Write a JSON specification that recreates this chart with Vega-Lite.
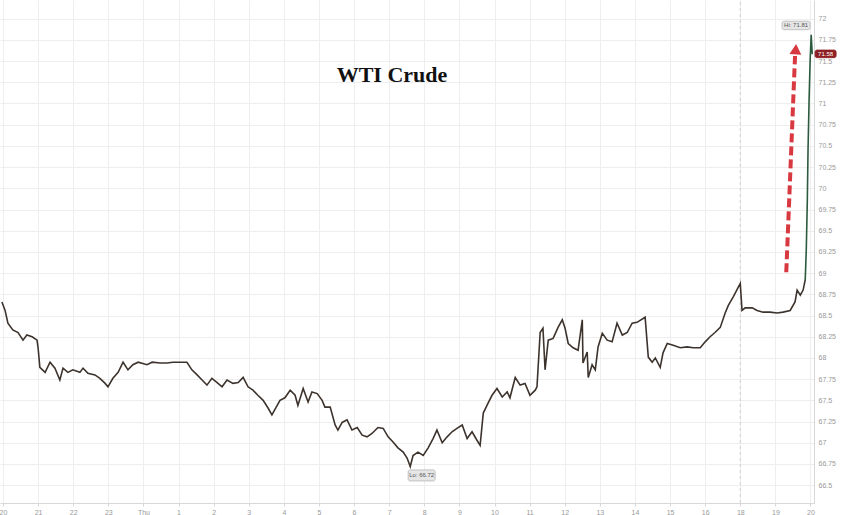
{
  "$schema": "https://vega.github.io/schema/vega-lite/v6.json",
  "width": 814,
  "height": 503,
  "autosize": {"type": "none"},
  "padding": {"left": 0, "top": 0, "right": 34, "bottom": 12},
  "background": "white",
  "config": {
    "view": {"stroke": null},
    "axis": {"labelFont": "Liberation Sans", "labelFontSize": 7, "labelColor": "#999", "gridColor": "#eeeeee", "domainColor": "#d8d8d8", "tickColor": "#d8d8d8", "tickSize": 3, "title": null, "labelOverlap": false}
  },
  "datasets": {
    "px": [
      {"t": -0.03, "v": 68.66, "seg": "a"}, {"t": 0.06, "v": 68.56, "seg": "a"}, {"t": 0.14, "v": 68.41, "seg": "a"},
      {"t": 0.28, "v": 68.33, "seg": "a"}, {"t": 0.43, "v": 68.30, "seg": "a"}, {"t": 0.57, "v": 68.21, "seg": "a"},
      {"t": 0.68, "v": 68.27, "seg": "a"}, {"t": 0.83, "v": 68.25, "seg": "a"}, {"t": 0.97, "v": 68.21, "seg": "a"},
      {"t": 1.00, "v": 68.12, "seg": "a"}, {"t": 1.05, "v": 67.89, "seg": "a"}, {"t": 1.20, "v": 67.83, "seg": "a"},
      {"t": 1.34, "v": 67.95, "seg": "a"}, {"t": 1.48, "v": 67.88, "seg": "a"}, {"t": 1.62, "v": 67.74, "seg": "a"},
      {"t": 1.71, "v": 67.88, "seg": "a"}, {"t": 1.85, "v": 67.83, "seg": "a"}, {"t": 1.99, "v": 67.86, "seg": "a"},
      {"t": 2.19, "v": 67.83, "seg": "a"}, {"t": 2.28, "v": 67.88, "seg": "a"}, {"t": 2.42, "v": 67.82, "seg": "a"},
      {"t": 2.62, "v": 67.80, "seg": "a"}, {"t": 2.76, "v": 67.76, "seg": "a"}, {"t": 2.91, "v": 67.70, "seg": "a"},
      {"t": 2.99, "v": 67.66, "seg": "a"}, {"t": 3.13, "v": 67.76, "seg": "a"}, {"t": 3.28, "v": 67.83, "seg": "a"},
      {"t": 3.42, "v": 67.95, "seg": "a"}, {"t": 3.56, "v": 67.86, "seg": "a"}, {"t": 3.70, "v": 67.92, "seg": "a"},
      {"t": 3.85, "v": 67.95, "seg": "a"}, {"t": 4.10, "v": 67.92, "seg": "a"}, {"t": 4.25, "v": 67.95, "seg": "a"},
      {"t": 4.47, "v": 67.94, "seg": "a"}, {"t": 4.67, "v": 67.94, "seg": "a"}, {"t": 4.84, "v": 67.95, "seg": "a"},
      {"t": 5.10, "v": 67.95, "seg": "a"}, {"t": 5.24, "v": 67.95, "seg": "a"}, {"t": 5.38, "v": 67.86, "seg": "a"},
      {"t": 5.53, "v": 67.80, "seg": "a"}, {"t": 5.67, "v": 67.74, "seg": "a"}, {"t": 5.81, "v": 67.68, "seg": "a"},
      {"t": 5.95, "v": 67.76, "seg": "a"}, {"t": 6.10, "v": 67.71, "seg": "a"}, {"t": 6.24, "v": 67.66, "seg": "a"},
      {"t": 6.38, "v": 67.74, "seg": "a"}, {"t": 6.55, "v": 67.70, "seg": "a"}, {"t": 6.70, "v": 67.71, "seg": "a"},
      {"t": 6.84, "v": 67.77, "seg": "a"}, {"t": 6.98, "v": 67.66, "seg": "a"}, {"t": 7.12, "v": 67.62, "seg": "a"},
      {"t": 7.26, "v": 67.56, "seg": "a"}, {"t": 7.41, "v": 67.50, "seg": "a"}, {"t": 7.55, "v": 67.41, "seg": "a"},
      {"t": 7.66, "v": 67.33, "seg": "a"}, {"t": 7.81, "v": 67.44, "seg": "a"}, {"t": 7.89, "v": 67.50, "seg": "a"},
      {"t": 8.03, "v": 67.53, "seg": "a"}, {"t": 8.18, "v": 67.62, "seg": "a"}, {"t": 8.32, "v": 67.56, "seg": "a"},
      {"t": 8.40, "v": 67.44, "seg": "a"}, {"t": 8.55, "v": 67.64, "seg": "a"}, {"t": 8.69, "v": 67.48, "seg": "a"},
      {"t": 8.80, "v": 67.60, "seg": "a"}, {"t": 8.95, "v": 67.58, "seg": "a"}, {"t": 9.09, "v": 67.50, "seg": "a"},
      {"t": 9.17, "v": 67.42, "seg": "a"}, {"t": 9.32, "v": 67.42, "seg": "a"}, {"t": 9.46, "v": 67.21, "seg": "a"},
      {"t": 9.54, "v": 67.15, "seg": "a"}, {"t": 9.66, "v": 67.24, "seg": "a"}, {"t": 9.80, "v": 67.27, "seg": "a"},
      {"t": 9.94, "v": 67.15, "seg": "a"}, {"t": 10.09, "v": 67.18, "seg": "a"}, {"t": 10.23, "v": 67.09, "seg": "a"},
      {"t": 10.37, "v": 67.07, "seg": "a"}, {"t": 10.51, "v": 67.11, "seg": "a"}, {"t": 10.68, "v": 67.18, "seg": "a"},
      {"t": 10.83, "v": 67.17, "seg": "a"}, {"t": 10.97, "v": 67.07, "seg": "a"}, {"t": 11.11, "v": 67.01, "seg": "a"},
      {"t": 11.25, "v": 66.94, "seg": "a"}, {"t": 11.40, "v": 66.89, "seg": "a"}, {"t": 11.51, "v": 66.82, "seg": "a"},
      {"t": 11.60, "v": 66.72, "seg": "a"}, {"t": 11.68, "v": 66.85, "seg": "a"}, {"t": 11.82, "v": 66.89, "seg": "a"},
      {"t": 11.97, "v": 66.85, "seg": "a"}, {"t": 12.11, "v": 66.94, "seg": "a"}, {"t": 12.25, "v": 67.05, "seg": "a"},
      {"t": 12.36, "v": 67.15, "seg": "a"}, {"t": 12.51, "v": 67.00, "seg": "a"}, {"t": 12.65, "v": 67.07, "seg": "a"},
      {"t": 12.79, "v": 67.13, "seg": "a"}, {"t": 12.93, "v": 67.17, "seg": "a"}, {"t": 13.08, "v": 67.21, "seg": "a"},
      {"t": 13.22, "v": 67.05, "seg": "a"}, {"t": 13.36, "v": 67.13, "seg": "a"}, {"t": 13.50, "v": 67.03, "seg": "a"},
      {"t": 13.59, "v": 66.97, "seg": "a"}, {"t": 13.68, "v": 67.35, "seg": "a"}, {"t": 13.82, "v": 67.47, "seg": "a"},
      {"t": 13.93, "v": 67.56, "seg": "a"}, {"t": 14.07, "v": 67.64, "seg": "a"}, {"t": 14.22, "v": 67.54, "seg": "a"},
      {"t": 14.36, "v": 67.60, "seg": "a"}, {"t": 14.44, "v": 67.53, "seg": "a"}, {"t": 14.59, "v": 67.77, "seg": "a"},
      {"t": 14.73, "v": 67.68, "seg": "a"}, {"t": 14.87, "v": 67.70, "seg": "a"}, {"t": 15.01, "v": 67.56, "seg": "a"},
      {"t": 15.16, "v": 67.62, "seg": "a"}, {"t": 15.21, "v": 67.66, "seg": "a"}, {"t": 15.30, "v": 68.30, "seg": "a"},
      {"t": 15.38, "v": 68.35, "seg": "a"}, {"t": 15.44, "v": 67.86, "seg": "a"}, {"t": 15.53, "v": 68.21, "seg": "a"},
      {"t": 15.67, "v": 68.23, "seg": "a"}, {"t": 15.81, "v": 68.36, "seg": "a"}, {"t": 15.93, "v": 68.45, "seg": "a"},
      {"t": 16.01, "v": 68.35, "seg": "a"}, {"t": 16.10, "v": 68.17, "seg": "a"}, {"t": 16.24, "v": 68.12, "seg": "a"},
      {"t": 16.38, "v": 68.09, "seg": "a"}, {"t": 16.50, "v": 68.45, "seg": "a"}, {"t": 16.52, "v": 67.94, "seg": "a"},
      {"t": 16.64, "v": 68.07, "seg": "a"}, {"t": 16.67, "v": 67.77, "seg": "a"}, {"t": 16.78, "v": 67.92, "seg": "a"},
      {"t": 16.87, "v": 67.86, "seg": "a"}, {"t": 16.95, "v": 68.13, "seg": "a"}, {"t": 17.07, "v": 68.29, "seg": "a"},
      {"t": 17.21, "v": 68.21, "seg": "a"}, {"t": 17.35, "v": 68.19, "seg": "a"}, {"t": 17.49, "v": 68.41, "seg": "a"},
      {"t": 17.64, "v": 68.27, "seg": "a"}, {"t": 17.78, "v": 68.30, "seg": "a"}, {"t": 17.92, "v": 68.41, "seg": "a"},
      {"t": 18.06, "v": 68.42, "seg": "a"}, {"t": 18.29, "v": 68.48, "seg": "a"}, {"t": 18.38, "v": 68.01, "seg": "a"},
      {"t": 18.49, "v": 67.95, "seg": "a"}, {"t": 18.58, "v": 68.00, "seg": "a"}, {"t": 18.72, "v": 67.89, "seg": "a"},
      {"t": 18.80, "v": 68.06, "seg": "a"}, {"t": 18.92, "v": 68.17, "seg": "a"}, {"t": 19.09, "v": 68.15, "seg": "a"},
      {"t": 19.29, "v": 68.12, "seg": "a"}, {"t": 19.49, "v": 68.13, "seg": "a"}, {"t": 19.66, "v": 68.12, "seg": "a"},
      {"t": 19.86, "v": 68.12, "seg": "a"}, {"t": 20.00, "v": 68.19, "seg": "a"}, {"t": 20.14, "v": 68.25, "seg": "a"},
      {"t": 20.28, "v": 68.30, "seg": "a"}, {"t": 20.43, "v": 68.36, "seg": "a"}, {"t": 20.57, "v": 68.53, "seg": "a"},
      {"t": 20.66, "v": 68.62, "seg": "a"}, {"t": 20.80, "v": 68.72, "seg": "a"}, {"t": 21.00, "v": 68.88, "seg": "a"},
      {"t": 21.05, "v": 68.56, "seg": "a"}, {"t": 21.14, "v": 68.59, "seg": "a"}, {"t": 21.34, "v": 68.59, "seg": "a"},
      {"t": 21.48, "v": 68.56, "seg": "a"}, {"t": 21.65, "v": 68.54, "seg": "a"}, {"t": 21.85, "v": 68.54, "seg": "a"},
      {"t": 22.05, "v": 68.53, "seg": "a"}, {"t": 22.22, "v": 68.54, "seg": "a"}, {"t": 22.42, "v": 68.56, "seg": "a"},
      {"t": 22.56, "v": 68.66, "seg": "a"}, {"t": 22.62, "v": 68.80, "seg": "a"}, {"t": 22.71, "v": 68.74, "seg": "a"},
      {"t": 22.79, "v": 68.80, "seg": "a"}, {"t": 22.85, "v": 68.92, "seg": "a"},
      {"t": 22.85, "v": 68.92, "seg": "b"}, {"t": 22.88, "v": 69.27, "seg": "b"}, {"t": 22.91, "v": 69.86, "seg": "b"},
      {"t": 22.93, "v": 70.45, "seg": "b"}, {"t": 22.96, "v": 71.04, "seg": "b"}, {"t": 22.99, "v": 71.51, "seg": "b"},
      {"t": 23.02, "v": 71.81, "seg": "b"}, {"t": 23.05, "v": 71.58, "seg": "b"}
    ],
    "boxes": [
      {"t": 22.19, "t2": 22.99, "v": 71.87, "v2": 71.97, "kind": "hl"},
      {"t": 11.54, "t2": 12.31, "v": 66.55, "v2": 66.68, "kind": "hl"},
      {"t": 23.13, "t2": 23.73, "v": 71.54, "v2": 71.63, "kind": "last"}
    ],
    "boxlabels": [
      {"t": 22.59, "v": 71.92, "label": "Hi: 71.81", "kind": "hl"},
      {"t": 11.925, "v": 66.615, "label": "Lo: 66.72", "kind": "hl"},
      {"t": 23.43, "v": 71.585, "label": "71.58", "kind": "last"}
    ]
  },
  "encoding": {
    "x": {
      "field": "t", "type": "quantitative", "title": null,
      "scale": {"domain": [-0.085, 23.1], "nice": false, "zero": false},
      "axis": {
        "values": [0, 1, 2, 3, 4, 5, 6, 7, 8, 9, 10, 11, 12, 13, 14, 15, 16, 17, 18, 19, 20, 21, 22, 23],
        "tickCount": 24,
        "labelExpr": "['20','21','22','23','Thu','1','2','3','4','5','6','7','8','9','10','11','12','13','14','15','16','18','19','20'][datum.value]",
        "grid": true, "labelPadding": 2, "labelOverlap": false, "labelBound": false
      }
    },
    "y": {
      "field": "v", "type": "quantitative", "title": null,
      "scale": {"domain": [66.29, 72.22], "nice": false, "zero": false},
      "axis": {
        "orient": "right",
        "values": [66.5, 66.75, 67, 67.25, 67.5, 67.75, 68, 68.25, 68.5, 68.75, 69, 69.25, 69.5, 69.75, 70, 70.25, 70.5, 70.75, 71, 71.25, 71.5, 71.75, 72],
        "tickCount": 24,
        "format": ".4~g", "grid": true, "ticks": false, "labelPadding": 4, "labelOverlap": false
      }
    }
  },
  "layer": [
    {
      "data": {"values": [{"t": 21.0, "v": 66.29, "v2": 72.22}]},
      "mark": {"type": "rule", "color": "#cfcfcf", "strokeDash": [3, 3], "strokeWidth": 1},
      "encoding": {"y2": {"field": "v2"}}
    },
    {
      "data": {"name": "px"},
      "mark": {"type": "line", "strokeWidth": 1.6, "interpolate": "linear"},
      "encoding": {
        "color": {"field": "seg", "type": "nominal", "legend": null, "scale": {"domain": ["a", "b"], "range": ["#3d332d", "#2c5a3f"]}},
        "detail": {"field": "seg"}
      }
    },
    {
      "data": {"values": [{"t": 22.31, "v": 69.01, "t2": 22.56, "v2": 71.56}]},
      "mark": {"type": "rule", "color": "#d8383f", "strokeWidth": 4, "strokeDash": [9, 4]},
      "encoding": {"x2": {"field": "t2"}, "y2": {"field": "v2"}}
    },
    {
      "data": {"values": [{"t": 22.58, "v": 71.64}]},
      "mark": {"type": "point", "shape": "triangle-up", "filled": true, "color": "#d8383f", "size": 140, "opacity": 1, "angle": 4}
    },
    {
      "data": {"name": "boxes"},
      "mark": {"type": "rect", "cornerRadius": 2, "strokeWidth": 0.8},
      "encoding": {
        "x2": {"field": "t2"},
        "y2": {"field": "v2"},
        "fill": {"field": "kind", "type": "nominal", "legend": null, "scale": {"domain": ["hl", "last"], "range": ["#e6e6e6", "#8e1f24"]}},
        "stroke": {"field": "kind", "type": "nominal", "legend": null, "scale": {"domain": ["hl", "last"], "range": ["#b5b5b5", "#8e1f24"]}}
      }
    },
    {
      "data": {"name": "boxlabels"},
      "mark": {"type": "text", "font": "Liberation Sans", "fontSize": 6, "align": "center", "baseline": "middle"},
      "encoding": {
        "text": {"field": "label"},
        "color": {"field": "kind", "type": "nominal", "legend": null, "scale": {"domain": ["hl", "last"], "range": ["#555555", "#ffffff"]}}
      }
    },
    {
      "data": {"values": [{"t": 11.08, "v": 71.33, "label": "WTI Crude"}]},
      "mark": {"type": "text", "font": "Liberation Serif", "fontSize": 22, "fontWeight": "bold", "color": "#111", "align": "center", "baseline": "middle"},
      "encoding": {"text": {"field": "label"}}
    }
  ],
  "resolve": {"scale": {"color": "independent"}}
}
